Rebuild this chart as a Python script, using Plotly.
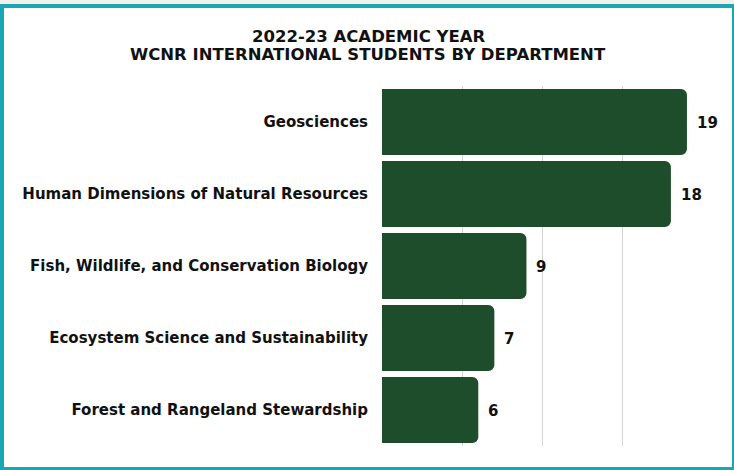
import plotly.graph_objects as go

departments = [
    "Geosciences",
    "Human Dimensions of Natural Resources",
    "Fish, Wildlife, and Conservation Biology",
    "Ecosystem Science and Sustainability",
    "Forest and Rangeland Stewardship",
]
students = [19, 18, 9, 7, 6]
title_lines = ["2022-23 ACADEMIC YEAR", "WCNR INTERNATIONAL STUDENTS BY DEPARTMENT"]

W, H = 734, 470
ML, MR, MT, MB = 382, 31, 86, 24
PW, PH = W - ML - MR, H - MT - MB
GREEN = "#1e4d2b"
TEAL = "#1ba6b6"
FONT = "DejaVu Sans"
TEXT = "#111111"


def px_x(p):
    return (p - ML) / PW


def px_y(p):
    return (H - MB - p) / PH


fig = go.Figure(
    go.Bar(
        x=students,
        y=departments,
        orientation="h",
        marker=dict(color=GREEN, cornerradius=6, line=dict(width=0)),
        hoverinfo="skip",
    )
)

annotations = []
for d, v in zip(departments, students):
    annotations.append(
        dict(x=v, y=d, xref="x", yref="y", text=str(v), showarrow=False,
             xanchor="left", xshift=8, yshift=-1,
             font=dict(family=FONT, size=15, color=TEXT, weight="bold"))
    )
title_y = [35.5, 54]
for line, ty in zip(title_lines, title_y):
    annotations.append(
        dict(x=px_x(W / 2 + 1), y=px_y(ty), xref="paper", yref="paper",
             text=line, showarrow=False, xanchor="center", yanchor="middle",
             height=18,
             font=dict(family=FONT, size=16.5, color=TEXT, weight="bold"))
    )

shapes = [
    dict(type="rect", xref="paper", yref="paper", x0=px_x(0), x1=px_x(W),
         y0=px_y(0), y1=px_y(4), fillcolor="#f2f1ea", line=dict(width=0), layer="below"),
    dict(type="rect", xref="paper", yref="paper", x0=px_x(0), x1=px_x(W),
         y0=px_y(4), y1=px_y(8), fillcolor=TEAL, line=dict(width=0), layer="below"),
    dict(type="rect", xref="paper", yref="paper", x0=px_x(0), x1=px_x(4),
         y0=px_y(4), y1=px_y(H), fillcolor=TEAL, line=dict(width=0), layer="below"),
    dict(type="rect", xref="paper", yref="paper", x0=px_x(0), x1=px_x(W),
         y0=px_y(467), y1=px_y(H), fillcolor=TEAL, line=dict(width=0), layer="below"),
    dict(type="rect", xref="paper", yref="paper", x0=px_x(732), x1=px_x(W),
         y0=px_y(4), y1=px_y(H), fillcolor=TEAL, line=dict(width=0), layer="below"),
]

fig.update_layout(
    width=W, height=H,
    margin=dict(l=ML, r=MR, t=MT, b=MB, pad=0),
    paper_bgcolor="white", plot_bgcolor="white",
    showlegend=False,
    bargap=0.085,
    annotations=annotations,
    shapes=shapes,
    xaxis=dict(range=[0, 20], tickvals=[0, 5, 10, 15], showticklabels=False,
               showgrid=True, gridcolor="#d4d4d4", gridwidth=1, zeroline=False,
               showline=False, fixedrange=True),
    yaxis=dict(categoryorder="array", categoryarray=departments[::-1],
               autorange=True, showgrid=False, zeroline=False, showline=False,
               ticks="", ticklabelstandoff=13,
               tickfont=dict(family=FONT, size=15, color=TEXT, weight="bold"),
               fixedrange=True),
)

fig.write_html("out.html", config={"displayModeBar": False},
               post_script="document.body.style.margin='0px';")
